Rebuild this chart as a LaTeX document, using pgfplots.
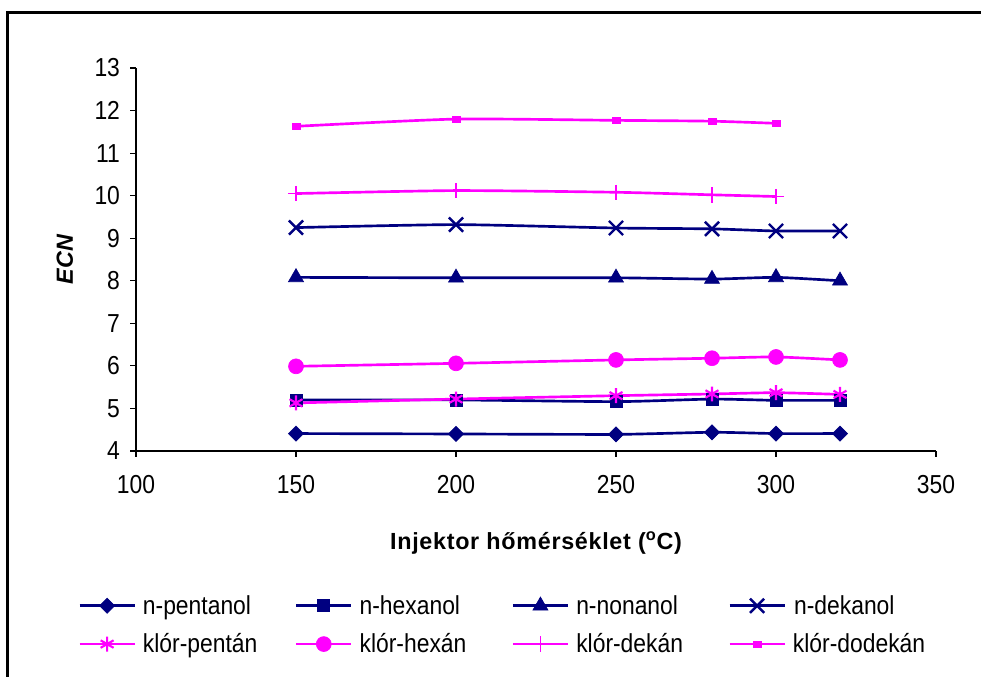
\documentclass[border=0pt]{standalone}
\usepackage{fontspec}
\setmainfont{Liberation Sans}
\setsansfont{Liberation Sans}
\newfontfamily\tallfont[FakeStretch=0.88]{Liberation Sans}
\usepackage{pgfplots}
\pgfplotsset{compat=1.18}
\definecolor{navy}{RGB}{0,0,128}
\definecolor{mag}{RGB}{255,0,255}
\begin{document}
\begin{tikzpicture}
\useasboundingbox (0pt,0pt) rectangle (735.75pt,507.75pt);
\draw[line width=2.25pt] (5.6pt,-10pt) -- (5.6pt,498.4pt) -- (750pt,498.4pt);
\begin{axis}[
  at={(102pt,169.5pt)}, anchor=south west,
  scale only axis, width=600pt, height=287.25pt,
  xmin=100, xmax=350, ymin=4, ymax=13,
  xtick={100,150,...,350}, ytick={4,5,...,13},
  axis lines*=left,
  axis line style={black, line width=0.9pt},
  tick style={black, line width=0.8pt},
  tick align=outside, major tick length=4.5pt,
  /pgf/number format/assume math mode=true,
  tick label style={font=\tallfont\fontsize{19.5}{22}\selectfont},
  xticklabel style={yshift=-10pt},
  yticklabel style={xshift=-4pt},
  xlabel={\addfontfeature{LetterSpace=3}\bfseries Injektor hőmérséklet (\textsuperscript{o}C)},
  xlabel style={at={(axis description cs:0.5,-0.240)}, anchor=center, font=\fontsize{17.5}{20}\selectfont},
  ylabel={\bfseries\itshape ECN},
  ylabel style={at={(axis description cs:-0.0888,0.5)}, anchor=center, font=\fontsize{17.5}{20}\selectfont},
  clip=false,
  every axis plot/.append style={line width=2pt, smooth, tension=0.35},
  legend columns=4,
  legend style={at={(axis description cs:-0.0725,-0.4543)}, anchor=west, draw=none, fill=none,
    inner sep=0pt, font=\tallfont\fontsize{19.5}{22}\selectfont, row sep=13pt,
    nodes={inner sep=0pt},
    /tikz/every odd column/.append style={column sep=5.25pt},
    /tikz/every even column/.append style={column sep=16.5pt}},
  legend image code/.code={\draw[mark repeat=2, mark phase=2, #1] plot coordinates {(0pt,0pt) (20.625pt,0pt) (41.25pt,0pt)};},
]
\addplot[navy, mark=square*, mark size=4pt, mark options={rotate=45, solid, line width=0.5pt}]
  coordinates {(150,4.41)(200,4.40)(250,4.39)(280,4.44)(300,4.41)(320,4.41)};
\addlegendentry{\makebox[97.5pt][l]{n-pentanol}}
\addplot[navy, mark=square*, mark size=4.5pt, mark options={solid, line width=0.5pt}]
  coordinates {(150,5.20)(200,5.20)(250,5.16)(280,5.22)(300,5.19)(320,5.19)};
\addlegendentry{\makebox[97.5pt][l]{n-hexanol}}
\addplot[navy, mark=triangle*, mark size=6.5pt, mark options={solid, line width=0.5pt}]
  coordinates {(150,8.08)(200,8.07)(250,8.07)(280,8.04)(300,8.08)(320,8.00)};
\addlegendentry{\makebox[97.5pt][l]{n-nonanol}}
\addplot[navy, mark=x, mark size=7.5pt, mark options={solid, line width=1.8pt}]
  coordinates {(150,9.25)(200,9.32)(250,9.24)(280,9.22)(300,9.17)(320,9.17)};
\addlegendentry{\makebox[97.5pt][l]{n-dekanol}}
\addplot[mag, mark=asterisk, mark size=5.6pt, mark options={solid, line width=1.6pt}]
  coordinates {(150,5.13)(200,5.22)(250,5.30)(280,5.34)(300,5.37)(320,5.33)};
\addlegendentry{\makebox[97.5pt][l]{klór-pentán}}
\addplot[mag, mark=*, mark size=5.6pt, mark options={solid, line width=0.5pt}]
  coordinates {(150,5.99)(200,6.06)(250,6.14)(280,6.18)(300,6.21)(320,6.14)};
\addlegendentry{\makebox[97.5pt][l]{klór-hexán}}
\addplot[mag, mark=+, mark size=5.8pt, mark options={solid, line width=1.3pt}]
  coordinates {(150,10.05)(200,10.12)(250,10.08)(280,10.02)(300,9.98)};
\addlegendentry{\makebox[97.5pt][l]{klór-dekán}}
\addplot[mag, mark=square*, mark size=2pt, mark options={solid, xscale=1.5, line width=0.3pt}]
  coordinates {(150,11.63)(200,11.80)(250,11.77)(280,11.75)(300,11.70)};
\addlegendentry{klór-dodekán}
\end{axis}
\end{tikzpicture}
\end{document}
